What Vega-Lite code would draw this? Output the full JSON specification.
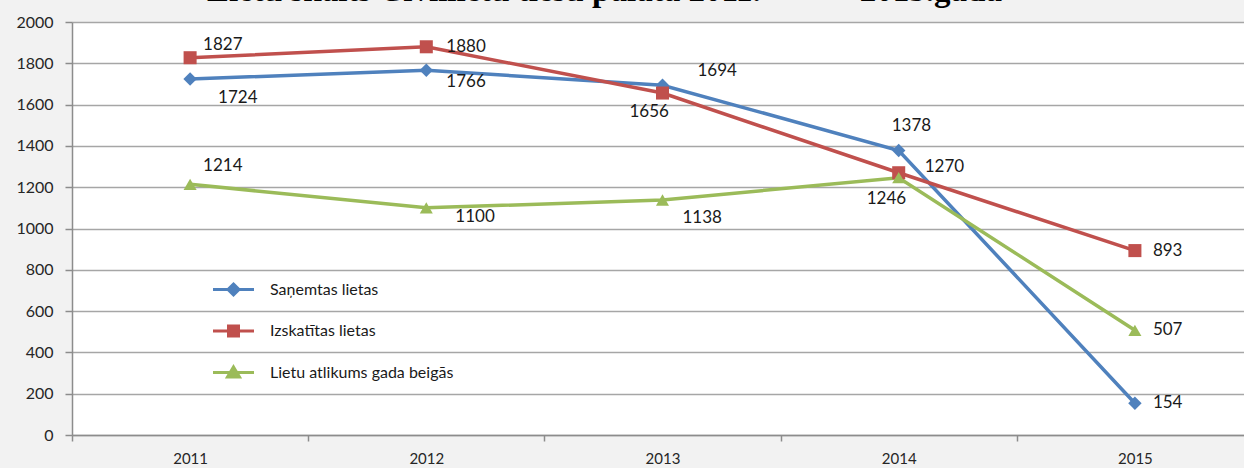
{
  "$schema": "https://vega.github.io/schema/vega-lite/v6.json",
  "width": 1181,
  "height": 413,
  "autosize": {"type": "none"},
  "padding": {"left": 72, "top": 22, "right": 0, "bottom": 33},
  "background": "#f2f2f2",
  "title": {
    "text": "Lietu skaits Civillietu tiesu palātā 2011.\u00a0\u00a0\u00a0\u00a0\u00a0–\u00a0\u00a0\u00a0\u00a0\u00a02015.gadā",
    "font": "Liberation Serif",
    "fontSize": 33,
    "fontWeight": "bold",
    "color": "#000000",
    "anchor": "middle",
    "frame": "group",
    "baseline": "alphabetic",
    "offset": 4,
    "dx": -58,
    "dy": 24
  },
  "config": {
    "view": {"fill": "#ffffff", "stroke": null},
    "axis": {
      "labelFont": "Lato",
      "labelColor": "#262626",
      "domainColor": "#8c8c8c",
      "tickColor": "#8c8c8c",
      "gridColor": "#a6a6a6",
      "domainWidth": 1.5,
      "tickWidth": 1.5,
      "gridWidth": 1.5
    }
  },
  "data": {
    "values": [
      {"year": "2011", "series": "Saņemtas lietas", "v": 1724},
      {"year": "2012", "series": "Saņemtas lietas", "v": 1766},
      {"year": "2013", "series": "Saņemtas lietas", "v": 1694},
      {"year": "2014", "series": "Saņemtas lietas", "v": 1378},
      {"year": "2015", "series": "Saņemtas lietas", "v": 154},
      {"year": "2011", "series": "Izskatītas lietas", "v": 1827},
      {"year": "2012", "series": "Izskatītas lietas", "v": 1880},
      {"year": "2013", "series": "Izskatītas lietas", "v": 1656},
      {"year": "2014", "series": "Izskatītas lietas", "v": 1270},
      {"year": "2015", "series": "Izskatītas lietas", "v": 893},
      {"year": "2011", "series": "Lietu atlikums gada beigās", "v": 1214},
      {"year": "2012", "series": "Lietu atlikums gada beigās", "v": 1100},
      {"year": "2013", "series": "Lietu atlikums gada beigās", "v": 1138},
      {"year": "2014", "series": "Lietu atlikums gada beigās", "v": 1246},
      {"year": "2015", "series": "Lietu atlikums gada beigās", "v": 507}
    ]
  },
  "encoding": {
    "x": {
      "field": "year",
      "type": "ordinal",
      "scale": {"type": "band", "paddingInner": 0, "paddingOuter": 0},
      "axis": {
        "title": null,
        "labelAngle": 0,
        "labelFontSize": 15,
        "tickBand": "extent",
        "tickSize": 6,
        "labelPadding": 10,
        "grid": false
      }
    },
    "y": {
      "field": "v",
      "type": "quantitative",
      "scale": {"domain": [0, 2000], "nice": false},
      "axis": {
        "title": null,
        "format": "d",
        "values": [0, 200, 400, 600, 800, 1000, 1200, 1400, 1600, 1800, 2000],
        "labelFontSize": 16,
        "tickSize": 7,
        "labelPadding": 12,
        "grid": true
      }
    },
    "color": {
      "field": "series",
      "type": "nominal",
      "scale": {
        "domain": ["Saņemtas lietas", "Izskatītas lietas", "Lietu atlikums gada beigās"],
        "range": ["#4f81bd", "#c0504d", "#9bbb59"]
      },
      "legend": {
        "title": null,
        "orient": "none",
        "legendX": 150,
        "legendY": 256,
        "padding": 0,
        "symbolSize": 400,
        "labelOffset": 25,
        "rowPadding": 18.5,
        "labelFont": "Lato",
        "labelFontSize": 16,
        "labelColor": "#1a1a1a",
        "labelLimit": 400,
        "encode": {
          "symbols": {
            "update": {
              "shape": {"signal": "datum.value == 'Saņemtas lietas' ? 'M-2.05,0L2.05,0M0,-0.55L0.55,0L0,0.55L-0.55,0Z' : datum.value == 'Izskatītas lietas' ? 'M-2.05,0L2.05,0M-0.5,-0.5L0.5,-0.5L0.5,0.5L-0.5,0.5Z' : 'M-2.05,0L2.05,0M0,-0.55L0.6,0.45L-0.6,0.45Z'"},
              "fill": {"signal": "scale('color', datum.value)"},
              "stroke": {"signal": "scale('color', datum.value)"},
              "strokeWidth": {"value": 3},
              "opacity": {"value": 1},
              "fillOpacity": {"value": 1}
            }
          }
        }
      }
    }
  },
  "layer": [
    {
      "mark": {"type": "line", "strokeWidth": 3.5}
    },
    {
      "transform": [{"filter": "datum.series == 'Saņemtas lietas'"}],
      "mark": {"type": "point", "filled": true, "opacity": 1, "size": 180, "shape": "diamond"}
    },
    {
      "transform": [{"filter": "datum.series == 'Izskatītas lietas'"}],
      "mark": {"type": "point", "filled": true, "opacity": 1, "size": 170, "shape": "square"}
    },
    {
      "transform": [{"filter": "datum.series == 'Lietu atlikums gada beigās'"}],
      "mark": {"type": "point", "filled": true, "opacity": 1, "size": 170, "shape": "triangle-up"}
    },
    {
      "encoding": {"text": {"field": "v", "type": "quantitative"}, "color": {"value": "#1a1a1a"}},
      "layer": [
        {"transform": [{"filter": "datum.v == 1724"}], "mark": {"type": "text", "align": "left", "baseline": "middle", "font": "Lato", "fontSize": 17, "dx": 28, "dy": 19}},
        {"transform": [{"filter": "datum.v == 1827"}], "mark": {"type": "text", "align": "left", "baseline": "middle", "font": "Lato", "fontSize": 17, "dx": 13, "dy": -13}},
        {"transform": [{"filter": "datum.v == 1214"}], "mark": {"type": "text", "align": "left", "baseline": "middle", "font": "Lato", "fontSize": 17, "dx": 13, "dy": -18}},
        {"transform": [{"filter": "datum.v == 1880"}], "mark": {"type": "text", "align": "left", "baseline": "middle", "font": "Lato", "fontSize": 17, "dx": 20, "dy": 0}},
        {"transform": [{"filter": "datum.v == 1766"}], "mark": {"type": "text", "align": "left", "baseline": "middle", "font": "Lato", "fontSize": 17, "dx": 20, "dy": 12}},
        {"transform": [{"filter": "datum.v == 1100"}], "mark": {"type": "text", "align": "left", "baseline": "middle", "font": "Lato", "fontSize": 17, "dx": 29, "dy": 9}},
        {"transform": [{"filter": "datum.v == 1694"}], "mark": {"type": "text", "align": "left", "baseline": "middle", "font": "Lato", "fontSize": 17, "dx": 35, "dy": -14}},
        {"transform": [{"filter": "datum.v == 1656"}], "mark": {"type": "text", "align": "left", "baseline": "middle", "font": "Lato", "fontSize": 17, "dx": -33, "dy": 19}},
        {"transform": [{"filter": "datum.v == 1138"}], "mark": {"type": "text", "align": "left", "baseline": "middle", "font": "Lato", "fontSize": 17, "dx": 20, "dy": 18}},
        {"transform": [{"filter": "datum.v == 1378"}], "mark": {"type": "text", "align": "left", "baseline": "middle", "font": "Lato", "fontSize": 17, "dx": -7, "dy": -24}},
        {"transform": [{"filter": "datum.v == 1270"}], "mark": {"type": "text", "align": "left", "baseline": "middle", "font": "Lato", "fontSize": 17, "dx": 26, "dy": -6}},
        {"transform": [{"filter": "datum.v == 1246"}], "mark": {"type": "text", "align": "left", "baseline": "middle", "font": "Lato", "fontSize": 17, "dx": -32, "dy": 21}},
        {"transform": [{"filter": "datum.v == 893 || datum.v == 507 || datum.v == 154"}], "mark": {"type": "text", "align": "left", "baseline": "middle", "font": "Lato", "fontSize": 17, "dx": 18, "dy": 0}}
      ]
    }
  ]
}
